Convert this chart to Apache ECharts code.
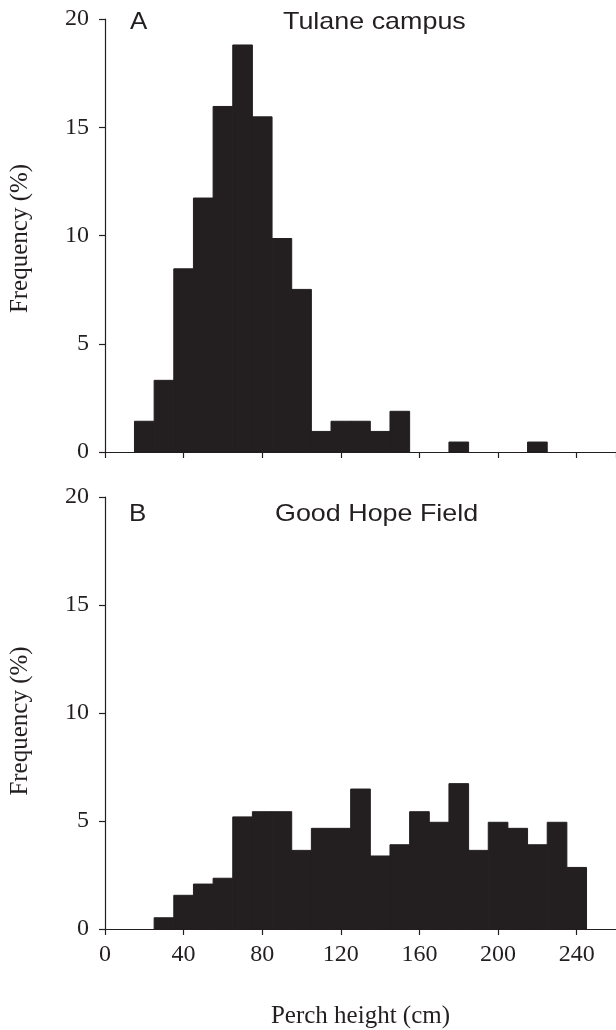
<!DOCTYPE html>
<html>
<head>
<meta charset="utf-8">
<script src="https://cdn.jsdelivr.net/npm/echarts@6/dist/echarts.min.js"></script>
<style>
html,body{margin:0;padding:0;background:#fff;}
#chart{width:616px;height:1030px;}
</style>
</head>
<body>
<div id="chart"></div>
<script>
// Bin lower edges (cm) and bin upper edges, frequencies (%)
const binLowA  = [15,25,35,45,55,65,75,85,95,105,115,125,135,145,155,165,175,185,195,205,215];
const binHighA = [25,35,45,55,65,75,85,95,105,115,125,135,145,155,165,175,185,195,205,215,225];
const tulane   = [1.42,3.31,8.46,11.73,15.96,18.8,15.48,9.86,7.51,0.95,1.42,1.42,0.95,1.88,0,0,0.46,0,0,0,0.46];

const binLowB  = [25,35,45,55,65,75,85,95,105,115,125,135,145,155,165,175,185,195,205,215,225,235];
const binHighB = [35,45,55,65,75,85,95,105,115,125,135,145,155,165,175,185,195,205,215,225,235,245];
const goodHope = [0.52,1.56,2.08,2.35,5.19,5.43,5.43,3.64,4.66,4.66,6.48,3.38,3.90,5.43,4.94,6.73,3.64,4.94,4.66,3.90,4.94,2.85];

const xTicks = [0,40,80,120,160,200,240];
const yTicks = [0,5,10,15,20];
const panelLetters = ['A','B'];
const panelTitles = ['Tulane campus','Good Hope Field'];

const ink = '#231f20';
const serif = '"Liberation Serif","Times New Roman",serif';
const sans = '"Liberation Sans",Arial,sans-serif';

function rows(lo, hi, v){ return lo.map((l,i)=>[l, hi[i], v[i]]); }

function renderItem(params, api){
  const p0 = api.coord([api.value(0), api.value(2)]);
  const p1 = api.coord([api.value(1), 0]);
  const h = p1[1]-p0[1];
  if (h <= 0) return null;
  return {type:'rect', shape:{x:p0[0], y:p0[1], width:p1[0]-p0[0], height:h},
          style:{fill:ink, stroke:ink, lineWidth:1}};
}

function xAxis(idx, showLabels){
  return {
    type:'value', gridIndex:idx, min:0, max:260, interval:40,
    axisLine:{show:true, lineStyle:{color:ink, width:1.2}},
    axisTick:{show:true, inside:false, length:6, lineStyle:{color:ink, width:1.2}},
    splitLine:{show:false},
    axisLabel:{show:showLabels, margin:14, fontFamily:serif, fontSize:24, color:ink,
      showMaxLabel:false,
      formatter:v => xTicks.indexOf(v) >= 0 ? String(v) : ''},
    name: showLabels ? 'Perch height (cm)' : '',
    nameLocation:'middle', nameGap:75,
    nameTextStyle:{fontFamily:serif, fontSize:25, color:ink}
  };
}
function yAxis(idx, pad){
  return {
    type:'value', gridIndex:idx, min:0, max:20, interval:5,
    axisLine:{show:true, lineStyle:{color:ink, width:1.2}},
    axisTick:{show:true, inside:false, length:6, lineStyle:{color:ink, width:1.2}},
    splitLine:{show:false},
    axisLabel:{margin:16, fontFamily:serif, fontSize:24, color:ink,
      formatter:v => yTicks.indexOf(v) >= 0 ? String(v) : ''},
    name:'Frequency (%)', nameLocation:'middle', nameGap:72,
    nameTextStyle:{fontFamily:serif, fontSize:25, color:ink, padding:pad}
  };
}

const chart = echarts.init(document.getElementById('chart'), null, {renderer:'canvas'});
chart.setOption({
  backgroundColor:'#fff',
  animation:false,
  grid:[
    {left:105, right:-3, top:19, height:433},
    {left:105, right:-3, top:497, height:433}
  ],
  xAxis:[xAxis(0,false), xAxis(1,true)],
  yAxis:[yAxis(0,[0,6,0,0]), yAxis(1,[0,16,0,0])],
  series:[
    {type:'custom', xAxisIndex:0, yAxisIndex:0, renderItem, encode:{x:[0,1], y:2},
     data:rows(binLowA, binHighA, tulane)},
    {type:'custom', xAxisIndex:1, yAxisIndex:1, renderItem, encode:{x:[0,1], y:2},
     data:rows(binLowB, binHighB, goodHope)}
  ],
  graphic:[
    {type:'text', x:130, y:10, scaleX:1.08, style:{text:panelLetters[0], font:'24px '+sans, fill:ink}},
    {type:'text', x:283, y:10, scaleX:1.12, style:{text:panelTitles[0], font:'24px '+sans, fill:ink}},
    {type:'text', x:129, y:502, scaleX:1.08, style:{text:panelLetters[1], font:'24px '+sans, fill:ink}},
    {type:'text', x:275, y:502, scaleX:1.12, style:{text:panelTitles[1], font:'24px '+sans, fill:ink}}
  ]
});
</script>
</body>
</html>
